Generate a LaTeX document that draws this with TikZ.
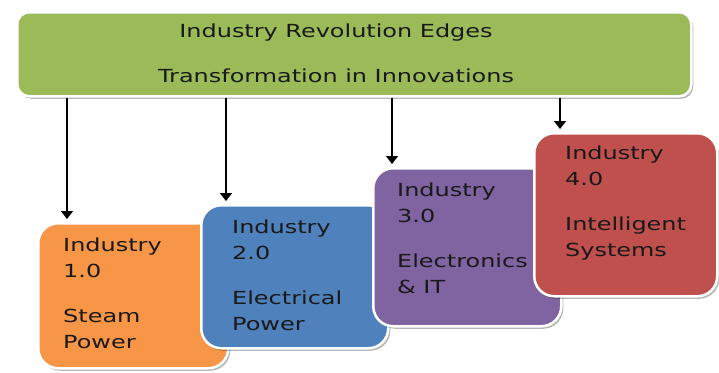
\documentclass[tikz,border=0pt]{standalone}
\usepackage{fontspec}
\usepackage{tikz}
\usetikzlibrary{positioning,shadows,arrows.meta}
\newfontfamily\edgefont{DejaVu Sans}[FakeStretch=1.33]
\definecolor{edgegreen}{HTML}{9BBB59}
\definecolor{indorange}{HTML}{F79646}
\definecolor{indblue}{HTML}{4F81BD}
\definecolor{indpurple}{HTML}{8064A2}
\definecolor{indred}{HTML}{C0504D}

\begin{document}
\begin{tikzpicture}[x=1pt,y=-1pt,
  panel/.style={draw=white,line width=2.5pt,rounded corners=20pt,anchor=north west,inner sep=0pt,
    drop shadow={shadow xshift=2pt,shadow yshift=-2.5pt,fill=black,opacity=.28}},
  words/.style={anchor=north west,inner sep=0pt,align=left,text=black!90,
    font=\edgefont\fontsize{18}{26}\selectfont},
  arr/.style={-{Triangle[width=12pt,length=8pt]},line width=1.5pt}]
  \useasboundingbox (0,0) rectangle (719,372);

  \node (edges) [panel,rounded corners=12pt,fill=edgegreen,minimum width=674pt,minimum height=84pt] at (16,11) {};
  \node (edgestop) [words,anchor=base] at (336,37) {Industry Revolution Edges};
  \node (edgesbot) [words,anchor=base] at (336,82) {Transformation in Innovations};

  \node (ind1) [panel,fill=indorange,minimum width=190pt,minimum height=145pt] at (37,222) {};
  \node (ind1txt) [words] at ([xshift=26pt,yshift=-16pt]ind1.north west) {Industry\\1.0\\[19pt]Steam\\Power};

  \node (ind2) [panel,fill=indblue,minimum width=187pt,minimum height=143pt] at (200,204) {};
  \node (ind2txt) [words] at ([xshift=32pt,yshift=-16pt]ind2.north west) {Industry\\2.0\\[19pt]Electrical\\Power};

  \node (ind3) [panel,fill=indpurple,minimum width=188pt,minimum height=158pt] at (372,167) {};
  \node (ind3txt) [words] at ([xshift=25pt,yshift=-16pt]ind3.north west) {Industry\\3.0\\[19pt]Electronics\\\& IT};

  \node (ind4) [panel,fill=indred,minimum width=183pt,minimum height=163pt] at (533,132) {};
  \node (ind4txt) [words] at ([xshift=32pt,yshift=-14pt]ind4.north west) {Industry\\4.0\\[19pt]Intelligent\\Systems};

  \coordinate (a1) at ([xshift=30pt,yshift=3pt]ind1.north west);
  \coordinate (a2) at ([xshift=26pt,yshift=3pt]ind2.north west);
  \coordinate (a3) at ([xshift=20pt,yshift=3pt]ind3.north west);
  \coordinate (a4) at ([xshift=27pt,yshift=3pt]ind4.north west);

  \draw [arr] (edges.south -| a1) -- (a1);
  \draw [arr] (edges.south -| a2) -- (a2);
  \draw [arr] (edges.south -| a3) -- (a3);
  \draw [arr] (edges.south -| a4) -- (a4);
\end{tikzpicture}
\end{document}
